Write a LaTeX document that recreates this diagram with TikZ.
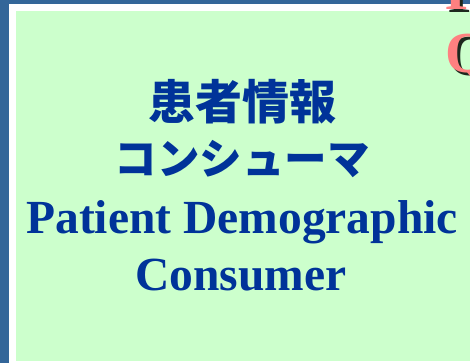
\documentclass[tikz,border=0pt]{standalone}
\usepackage{fontspec}
\setmainfont{Liberation Serif}
\newfontfamily\jpfont{Noto Sans CJK JP}
\definecolor{bandblue}{RGB}{51,102,153}
\definecolor{panelgreen}{RGB}{204,255,204}
\definecolor{textblue}{RGB}{0,51,153}
\definecolor{titlepink}{RGB}{255,128,128}
\definecolor{shadowgrey}{RGB}{30,40,30}

\begin{document}
\begin{tikzpicture}[x=1pt, y=-1pt,
        jp/.style = {text=textblue, anchor=base, inner sep=0pt, font=\jpfont\bfseries\fontsize{47}{47}\selectfont},
        en/.style = {text=textblue, anchor=base, inner sep=0pt, font=\bfseries\fontsize{47.5}{47.5}\selectfont},
        title/.style = {text=titlepink, anchor=base west, inner sep=0pt, font=\bfseries\fontsize{58}{58}\selectfont},
        shade/.style = {title, text=shadowgrey}]
    \useasboundingbox (0,0) rectangle (470,363);
    \clip (0,0) rectangle (470,363);
    % background and frame
    \fill[white] (0,0) rectangle (470,363);
    \fill[bandblue] (0,0) rectangle (9,363);
    \fill[bandblue] (0,0) rectangle (470,4.5);
    \fill[panelgreen] (16,11) rectangle (470,361);
    % title letters cut off at the right edge
    \node[shade] (pshade) at (448,13) {P};
    \node[title] (p) at (445,10) {P};
    \node[shade] (qshade) at (448,76) {Q};
    \node[title] (q) at (445,73) {Q};
    % panel text
    \node[jp] (kanji) at (242,120) {患者情報};
    \node[jp, font=\jpfont\bfseries\fontsize{42.5}{42.5}\selectfont] (kana) at (242,175) {コンシューマ};
    \node[en] (patient) at (242,233) {Patient Demographic};
    \node[en] (consumer) at (241,290) {Consumer};
\end{tikzpicture}
\end{document}
